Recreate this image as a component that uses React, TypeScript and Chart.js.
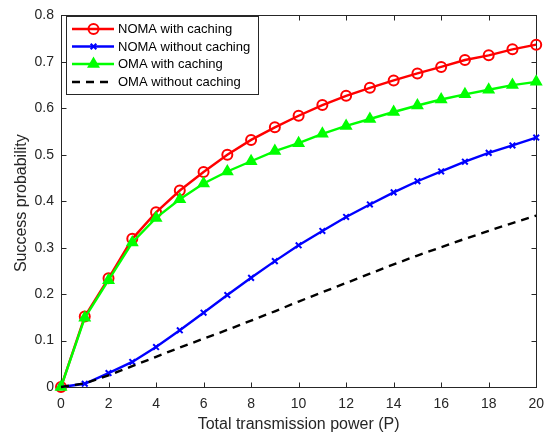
import React, { useEffect, useRef } from "react";
import { Chart, registerables } from "chart.js";
import { drawPoint } from "chart.js/helpers";

Chart.register(...registerables);

const powers = [0, 1, 2, 3, 4, 5, 6, 7, 8, 9, 10, 11, 12, 13, 14, 15, 16, 17, 18, 19, 20];
const nomaCaching = [0, 0.152, 0.234, 0.319, 0.376, 0.423, 0.463, 0.5, 0.532, 0.559, 0.584, 0.607, 0.627, 0.644, 0.66, 0.675, 0.689, 0.704, 0.714, 0.727, 0.737];
const nomaNoCaching = [0, 0.007, 0.03, 0.054, 0.086, 0.122, 0.16, 0.198, 0.235, 0.271, 0.305, 0.336, 0.366, 0.393, 0.419, 0.443, 0.464, 0.485, 0.504, 0.52, 0.537];
const omaCaching = [0, 0.149, 0.23, 0.311, 0.364, 0.404, 0.438, 0.464, 0.486, 0.508, 0.525, 0.545, 0.562, 0.577, 0.592, 0.606, 0.619, 0.63, 0.64, 0.65, 0.657];
const omaNoCaching = [0, 0.008, 0.025, 0.045, 0.065, 0.085, 0.104, 0.123, 0.143, 0.163, 0.184, 0.204, 0.224, 0.244, 0.264, 0.283, 0.301, 0.319, 0.336, 0.353, 0.369];

const seriesNames = ["NOMA with caching", "NOMA without caching", "OMA with caching", "OMA without caching"];
const xTicks = [0, 2, 4, 6, 8, 10, 12, 14, 16, 18, 20];
const yTicks = [0, 0.1, 0.2, 0.3, 0.4, 0.5, 0.6, 0.7, 0.8];
const xTitle = "Total transmission power (P)";
const yTitle = "Success probability";

const FONT = "'Liberation Sans', Arial, Helvetica, sans-serif";
const AXIS = "#262626";

const styles = [
  { color: "#ff0000", pointStyle: "circle", radius: 5, fill: "rgba(0,0,0,0)", dash: [] as number[] },
  { color: "#0000ff", pointStyle: "crossRot", radius: 4, fill: "#0000ff", dash: [] as number[] },
  { color: "#00ff00", pointStyle: "triangle", radius: 5.5, fill: "#00ff00", dash: [] as number[] },
  { color: "#000000", pointStyle: false as any, radius: 0, fill: "#000", dash: [8, 6] },
];

const LINE_W = 2.4;

const boxPlugin = {
  id: "matlabBox",
  beforeDatasetsDraw(chart: any) {
    const { ctx, chartArea: a, scales } = chart;
    const L = Math.round(a.left) + 0.5;
    const R = Math.round(a.right) + 0.5;
    const T = Math.round(a.top) + 0.5;
    const B = Math.round(a.bottom) + 0.5;
    ctx.save();
    ctx.strokeStyle = AXIS;
    ctx.lineWidth = 1;
    ctx.strokeRect(L, T, R - L, B - T);
    ctx.beginPath();
    xTicks.forEach((v) => {
      const px = Math.round(scales.x.getPixelForValue(v)) + 0.5;
      ctx.moveTo(px, B);
      ctx.lineTo(px, B - 5);
      ctx.moveTo(px, T);
      ctx.lineTo(px, T + 5);
    });
    yTicks.forEach((v) => {
      const py = Math.round(scales.y.getPixelForValue(v)) + 0.5;
      ctx.moveTo(L, py);
      ctx.lineTo(L + 5, py);
      ctx.moveTo(R, py);
      ctx.lineTo(R - 5, py);
    });
    ctx.stroke();
    // axis titles
    ctx.fillStyle = AXIS;
    ctx.font = `16px ${FONT}`;
    ctx.textAlign = "center";
    ctx.textBaseline = "middle";
    ctx.fillText(xTitle, (a.left + a.right) / 2, 425);
    ctx.translate(22, (a.top + a.bottom) / 2 + 2);
    ctx.rotate(-Math.PI / 2);
    ctx.fillText(yTitle, 0, 0);
    ctx.restore();
  },
  afterDraw(chart: any) {
    const { ctx } = chart;
    ctx.save();
    const bx = 66.5, by = 16.5, bw = 192, bh = 78;
    ctx.fillStyle = "#ffffff";
    ctx.fillRect(bx, by, bw, bh);
    ctx.strokeStyle = AXIS;
    ctx.lineWidth = 1;
    ctx.strokeRect(bx, by, bw, bh);
    const rows = [29, 46.5, 64, 82];
    seriesNames.forEach((name, i) => {
      const s = styles[i];
      const y = rows[i];
      ctx.strokeStyle = s.color;
      ctx.lineWidth = LINE_W;
      ctx.setLineDash(s.dash);
      ctx.beginPath();
      ctx.moveTo(72, y);
      ctx.lineTo(114, y);
      ctx.stroke();
      ctx.setLineDash([]);
      if (s.pointStyle) {
        ctx.fillStyle = s.fill;
        ctx.strokeStyle = s.color;
        ctx.lineWidth = 2;
        drawPoint(ctx, { pointStyle: s.pointStyle, radius: s.radius, rotation: 0, borderWidth: 2 } as any, 93.5, y);
      }
      ctx.fillStyle = "#000";
      ctx.font = `13px ${FONT}`;
      ctx.textAlign = "left";
      ctx.textBaseline = "middle";
      ctx.fillText(name, 118, y + 0.5);
    });
    ctx.restore();
  },
};

export default function App() {
  const ref = useRef<HTMLCanvasElement>(null);
  useEffect(() => {
    if (!ref.current) return;
    const all = [nomaCaching, nomaNoCaching, omaCaching, omaNoCaching];
    const chart = new Chart(ref.current, {
      type: "line",
      data: {
        datasets: all.map((vals, i) => ({
          label: seriesNames[i],
          data: powers.map((x, j) => ({ x, y: vals[j] })),
          borderColor: styles[i].color,
          backgroundColor: styles[i].fill,
          borderWidth: LINE_W,
          borderDash: styles[i].dash,
          pointStyle: styles[i].pointStyle,
          pointRadius: styles[i].radius,
          pointBorderWidth: 2,
          pointBorderColor: styles[i].color,
          pointBackgroundColor: styles[i].fill,
          tension: 0,
          clip: false as any,
          order: 3 - i,
        })),
      },
      options: {
        responsive: false,
        animation: false,
        events: [],
        layout: { padding: { left: 0, top: 9, right: 14, bottom: 0 } },
        plugins: { legend: { display: false }, tooltip: { enabled: false } },
        scales: {
          x: {
            type: "linear",
            min: 0,
            max: 20,
            grid: { display: false, drawTicks: false },
            border: { display: false },
            afterFit: (s: any) => { s.height = 49; },
            afterBuildTicks: (s: any) => { s.ticks = xTicks.map((v) => ({ value: v })); },
            ticks: {
              color: AXIS,
              font: { family: FONT, size: 14 },
              padding: 9,
              maxRotation: 0,
              callback: (v: any) => String(v),
            },
          },
          y: {
            type: "linear",
            min: 0,
            max: 0.8,
            grid: { display: false, drawTicks: false },
            border: { display: false },
            afterFit: (s: any) => { s.width = 61; },
            afterBuildTicks: (s: any) => { s.ticks = yTicks.map((v) => ({ value: v })); },
            ticks: {
              color: AXIS,
              font: { family: FONT, size: 14 },
              padding: 7,
              callback: (v: any) => (Number(v) === 0 ? "0" : Number(v).toFixed(1)),
            },
          },
        },
      },
      plugins: [boxPlugin],
    });
    return () => chart.destroy();
  }, []);
  return (
    <div style={{ position: "absolute", left: 0, top: 0, width: 553, height: 436, background: "#fff" }}>
      <canvas ref={ref} width={553} height={436} style={{ display: "block" }} />
    </div>
  );
}
